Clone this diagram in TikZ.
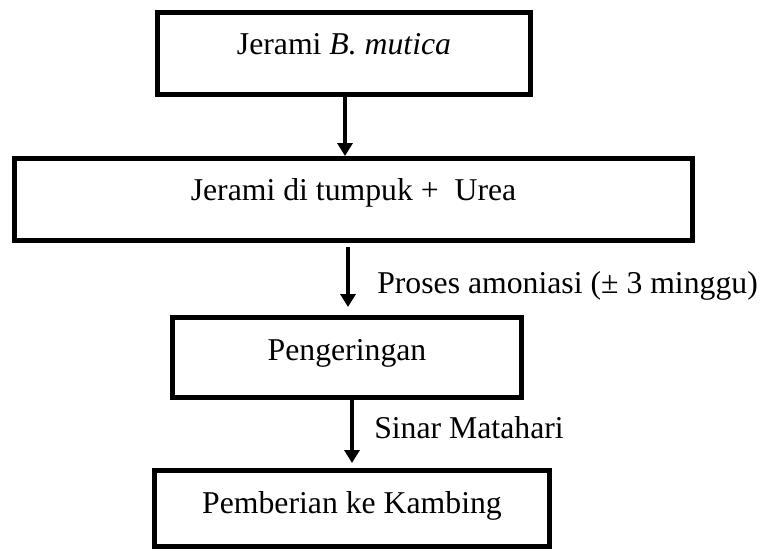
\documentclass[tikz,border=0pt]{standalone}
\usepackage{fontspec}
\setmainfont{Liberation Serif}
\usetikzlibrary{arrows.meta}
\begin{document}
\begin{tikzpicture}[x=0.75pt,y=-0.75pt,
  box/.style={draw,line width=3.75pt,inner xsep=0pt,inner ysep=0pt,anchor=north west,font=\fontsize{23.8}{28}\selectfont},
  lab/.style={anchor=base west,inner sep=0pt,font=\fontsize{23.8}{28}\selectfont},
  arr/.style={line width=3.4pt,-{Triangle[length=9.75pt,width=11.25pt]}}]
\useasboundingbox (0,0) rectangle (764,551);
\node[box,minimum width=279.75pt,text height=31.125pt,text depth=30.375pt] (b1) at (155,10) {Jerami \textit{B. mutica}};
\node[box,minimum width=508.5pt,text height=31.125pt,text depth=30.375pt] (b2) at (12,156) {Jerami di tumpuk +\ \ Urea};
\node[box,minimum width=261.75pt,text height=31.875pt,text depth=28.125pt] (b3) at (170,315) {Pengeringan};
\node[box,minimum width=296.25pt,text height=31.875pt,text depth=25.125pt] (b4) at (152,468) {Pemberian ke Kambing};
\coordinate (a1) at (345,0);
\coordinate (a2) at (348,0);
\coordinate (a3) at (352,0);
\draw[arr] (b1.south -| a1) -- (b2.north -| a1);
\draw[arr,shorten <=3pt,shorten >=6pt] (b2.south -| a2) -- (b3.north -| a2);
\draw[arr,shorten >=3.75pt] (b3.south -| a3) -- (b4.north -| a3);
\node[lab] (l2) at (377,293) {Proses amoniasi (± 3 minggu)};
\node[lab] (l3) at (374,438) {Sinar Matahari};
\end{tikzpicture}
\end{document}
